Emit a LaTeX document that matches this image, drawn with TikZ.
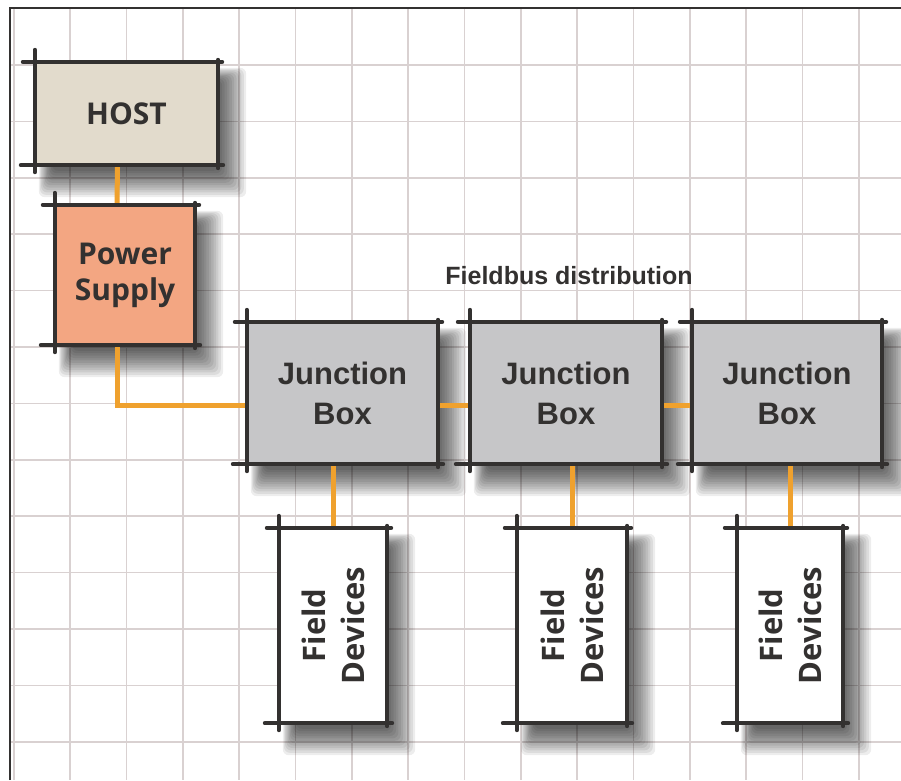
\documentclass[tikz,border=0pt]{standalone}
\usepackage{fontspec}
\setmainfont{Liberation Sans}
\newfontfamily\labelfont{Open Sans}
\usetikzlibrary{positioning,calc}

\pgfdeclarelayer{paper}
\pgfdeclarelayer{shade}
\pgfsetlayers{paper,shade,main}

\definecolor{gridline}{HTML}{D9D1D1}
\definecolor{edgegray}{HTML}{333130}
\definecolor{hostfill}{HTML}{E2DBCC}
\definecolor{psufill}{HTML}{F3A682}
\definecolor{jbfill}{HTML}{C6C6C8}
\definecolor{wireorange}{HTML}{EFA12E}

\tikzset{
  box/.style={rectangle, inner sep=0pt, text=edgegray},
  hostbox/.style={box, fill=hostfill, font=\labelfont\bfseries\fontsize{30}{34}\selectfont},
  psubox/.style={box, fill=psufill, align=center, font=\labelfont\bfseries\fontsize{30}{36}\selectfont},
  jbox/.style={box, fill=jbfill, align=center, minimum width=191pt, minimum height=142pt,
    font=\bfseries\fontsize{31}{40}\selectfont},
  fdbox/.style={box, fill=white, align=center, minimum width=108pt, minimum height=195pt},
  fdtext/.style={rotate=90, align=center, text=edgegray, font=\labelfont\bfseries\fontsize{31}{39}\selectfont},
  edge/.style={draw=edgegray, line width=4pt, line cap=round},
  wire/.style={draw=wireorange, line width=5pt},
  haze/.style={fill=black, opacity=0.07}
}

% sketchy outline with overshooting edges
\newcommand{\sketchedges}[1]{%
  \draw[edge] ([xshift=-12pt]#1.north west) -- ([xshift=4pt]#1.north east);
  \draw[edge] ([yshift=12pt]#1.north west) -- ([yshift=-7pt]#1.south west);
  \draw[edge] ([xshift=-14pt]#1.south west) -- ([xshift=5pt]#1.south east);
  \draw[edge] ([yshift=2pt]#1.north east) -- ([yshift=-3pt]#1.south east);
}

% soft shadow, built from stacked translucent rectangles, spreading down-right
\newcommand{\softshadow}[1]{%
  \foreach \e in {-8,-5,...,26} {
    \pgfmathsetmacro{\nwx}{14-0.4*\e}
    \pgfmathsetmacro{\nwy}{-16+0.4*\e}
    \pgfmathsetmacro{\sex}{8+0.8*\e}
    \pgfmathsetmacro{\sey}{-12-0.8*\e}
    \fill[haze, rounded corners=6pt]
      ([xshift=\nwx pt, yshift=\nwy pt]#1.north west) rectangle
      ([xshift=\sex pt, yshift=\sey pt]#1.south east);
  }
}

\begin{document}
\begin{tikzpicture}[x=1pt, y=-1pt]

	\useasboundingbox (0,0) rectangle (901,780);

	%grid paper
	\begin{pgfonlayer}{paper}
		\fill[white] (0,0) rectangle (901,780);
		\foreach \i in {0,...,15} {
			\draw[gridline, line width=1.6pt] (13.7+56.35*\i,8) -- (13.7+56.35*\i,780);
		}
		\foreach \j in {0,...,13} {
			\draw[gridline, line width=1.6pt] (10,8.6+56.4*\j) -- (901,8.6+56.4*\j);
		}
		\draw[edgegray, line width=2.5pt] (10,780) -- (10,8) -- (901,8);
	\end{pgfonlayer}

	%boxes
	\node[hostbox, minimum width=183pt, minimum height=103pt] (host) at (126.5,113.5) {HOST};
	\node[psubox, minimum width=140pt, minimum height=140pt] (psu) at (125,275) {Power\\Supply};

	\node[jbox] (jb1) at (342.5,393) {Junction\\Box};
	\node[jbox, minimum width=192pt] (jb2) at (566,393) {Junction\\Box};
	\node[jbox, minimum width=190pt] (jb3) at (787,393) {Junction\\Box};

	\node[fdbox] (fd1) at (333,625.5) {};
	\node[fdbox, minimum width=110pt] (fd2) at (572,625.5) {};
	\node[fdbox, minimum width=106pt] (fd3) at (790,625.5) {};
	\foreach \k in {1,2,3} {
		\node[fdtext] (fdlabel\k) at (fd\k) {Field\\Devices};
	}

	\node[font=\bfseries\fontsize{25}{30}\selectfont, text=edgegray] (title) at (569,276) {Fieldbus distribution};

	%shadows behind the boxes
	\begin{pgfonlayer}{shade}
		\foreach \b in {host,psu,jb1,jb2,jb3,fd1,fd2,fd3} {
			\softshadow{\b}
		}
	\end{pgfonlayer}

	%wiring
	\draw[wire] ([xshift=-9pt]host.south) -- ([xshift=-8pt]psu.north);
	\draw[wire] ([xshift=-8pt]psu.south) |- ([yshift=-12pt]jb1.west);
	\draw[wire] ([yshift=-12pt]jb1.east) -- ([yshift=-12pt]jb2.west);
	\draw[wire] ([yshift=-12pt]jb2.east) -- ([yshift=-12pt]jb3.west);
	\foreach \k in {1,2,3} {
		\draw[wire] (fd\k.north |- jb\k.south) -- (fd\k.north);
	}

	%outlines
	\foreach \b in {host,psu,jb1,jb2,jb3,fd1,fd2,fd3} {
		\sketchedges{\b}
	}

\end{tikzpicture}
\end{document}
